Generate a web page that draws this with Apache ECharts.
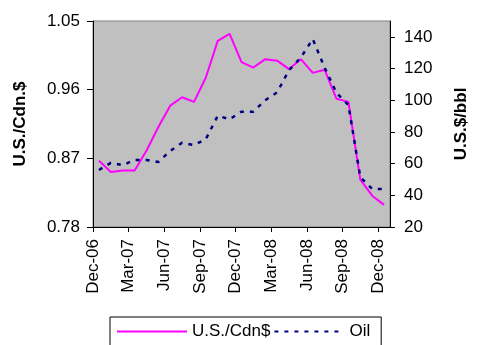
<!DOCTYPE html>
<html>
<head>
	<meta charset="utf-8">
	<title>U.S./Cdn$ and Oil</title>
	<style type="text/css">
		body{
			margin: 0px;
			background: #fff;
		}
		.chart{
			width: 478px;
			height: 345px;
		}
	</style>
	<script type="text/javascript" src="https://cdn.jsdelivr.net/npm/echarts@6/dist/echarts.min.js"></script>
</head>
<body>
	<div id="chart" class="chart"></div>
	<script type="text/javascript">
		// monthly, Dec-06 .. Dec-08
		var months = ['Dec-06','Jan-07','Feb-07','Mar-07','Apr-07','May-07','Jun-07','Jul-07','Aug-07','Sep-07','Oct-07','Nov-07','Dec-07',
			'Jan-08','Feb-08','Mar-08','Apr-08','May-08','Jun-08','Jul-08','Aug-08','Sep-08','Oct-08','Nov-08','Dec-08'];
		var cad = [0.867, 0.852, 0.854, 0.854, 0.880, 0.911, 0.939, 0.950, 0.944, 0.976, 1.024, 1.033, 0.996,
			0.989, 1.000, 0.998, 0.987, 1.000, 0.982, 0.986, 0.948, 0.944, 0.842, 0.821, 0.809];
		var oil = [56, 60.5, 59, 62.3, 62.3, 61, 68, 73.2, 71.7, 75.5, 90.2, 88, 92.8,
			92.8, 100, 105, 119, 127, 138.6, 120.5, 104.6, 97, 51.5, 44, 44];
		var tickLabels = ['Dec-06','Mar-07','Jun-07','Sep-07','Dec-07','Mar-08','Jun-08','Sep-08','Dec-08'];
		var leftTicks = [0.78, 0.87, 0.96, 1.05];
		var rightTicks = [20, 40, 60, 80, 100, 120, 140];

		var font = 'Arial, "Liberation Sans", sans-serif';
		var chart = echarts.init(document.getElementById('chart'));
		chart.setOption({
			animation: false,
			backgroundColor: '#fff',
			textStyle: { fontFamily: font },
			grid: {
				left: 93,
				right: 73,
				top: 21,
				bottom: 118,
				show: true,
				backgroundColor: '#C0C0C0',
				borderColor: '#808080',
				borderWidth: 1
			},
			legend: {
				left: 110,
				top: 317,
				padding: [6, 11, 6, 6],
				itemWidth: 70,
				itemHeight: 20,
				itemGap: 3,
				borderColor: '#000',
				borderWidth: 1,
				itemStyle: { opacity: 0 },
				textStyle: { fontFamily: font, fontSize: 17, color: '#000' },
				data: ['U.S./Cdn$', 'Oil']
			},
			xAxis: [{
				type: 'category',
				data: months,
				boundaryGap: true,
				show: false
			}, {
				type: 'value',
				min: 0,
				max: 25,
				interval: 3,
				position: 'bottom',
				axisLine: { lineStyle: { color: '#000', width: 1 } },
				axisTick: { length: 5, lineStyle: { color: '#000' } },
				splitLine: { show: false },
				axisLabel: {
					rotate: 90,
					margin: 12,
					fontSize: 17,
					color: '#000',
					fontFamily: font,
					showMaxLabel: false,
					formatter: function(v){
						var i = Math.round(v / 3);
						return (v % 3 === 0 && tickLabels[i]) ? tickLabels[i] : '';
					}
				}
			}],
			yAxis: [{
				type: 'value',
				min: 0.78,
				max: 1.05,
				name: 'U.S./Cdn.$',
				nameLocation: 'middle',
				nameRotate: 90,
				nameGap: 64,
				nameTextStyle: { fontFamily: font, fontSize: 17, fontWeight: 'bold', color: '#000' },
				axisLine: { show: true, lineStyle: { color: '#000' } },
				axisTick: { show: true, length: 6, customValues: leftTicks, lineStyle: { color: '#000' } },
				splitLine: { show: false },
				axisLabel: {
					margin: 13,
					fontSize: 17,
					color: '#000',
					fontFamily: font,
					customValues: leftTicks,
					formatter: function(v){ return v.toFixed(2); }
				}
			}, {
				type: 'value',
				min: 20,
				max: 150,
				position: 'right',
				name: 'U.S.$/bbl',
				nameLocation: 'middle',
				nameRotate: 90,
				nameGap: 63,
				nameTextStyle: { fontFamily: font, fontSize: 17, fontWeight: 'bold', color: '#000' },
				axisLine: { show: true, lineStyle: { color: '#000' } },
				axisTick: { show: true, length: 5, customValues: rightTicks, lineStyle: { color: '#000' } },
				splitLine: { show: false },
				axisLabel: {
					margin: 14,
					fontSize: 17,
					color: '#000',
					fontFamily: font,
					customValues: rightTicks
				}
			}],
			series: [{
				name: 'U.S./Cdn$',
				type: 'line',
				xAxisIndex: 0,
				yAxisIndex: 0,
				data: cad,
				symbol: 'none',
				lineStyle: { color: '#FF00FF', width: 2 },
				itemStyle: { color: '#FF00FF' }
			}, {
				name: 'Oil',
				type: 'line',
				xAxisIndex: 0,
				yAxisIndex: 1,
				data: oil,
				symbol: 'none',
				lineStyle: { color: '#000080', width: 2.5, type: [4, 6] },
				itemStyle: { color: '#000080' }
			}]
		});
	</script>
</body>
</html>
